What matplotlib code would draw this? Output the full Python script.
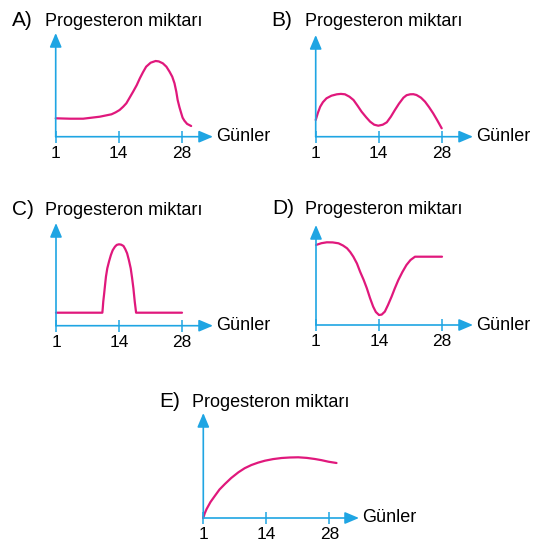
import matplotlib.pyplot as plt

# ── THEME ────────────────────────────────────────────────────────────────────
BLUE = '#1fa5e3'
PINK = '#e0187c'
W, H = 549, 541
plt.rcParams['font.family'] = ['Liberation Sans', 'DejaVu Sans']

# ── DATA (x in day-axis units: ticks 1, 14, 28 sit at 0, 14, 28) ────────────
tick_pos = [0, 14, 28]
tick_labels = ['1', '14', '28']
title = 'Progesteron miktarı'
xlabel = 'Günler'

a_x = [0, 3.2, 6.1, 9.8, 12.4, 13.3, 14.2, 15.0, 15.7, 16.4, 17.2, 18.0, 18.7, 19.4, 20.1,
       21.1, 22.2, 22.9, 23.8, 24.6, 25.3, 25.9, 26.4, 26.8, 27.1, 27.5, 27.9, 28.2, 28.6,
       29.2, 30.1]
a_y = [18.4, 18.0, 18.0, 20.0, 22.4, 24.3, 26.7, 30.0, 33.4, 38.8, 45.0, 51.5, 58.4, 64.5, 70.0,
       74.0, 75.7, 75.3, 73.4, 70.0, 65.0, 60.0, 53.4, 45.0, 36.7, 29.5, 23.4, 19.0, 16.0,
       12.8, 10.7]

b_x = [0, 0.5, 1.0, 1.6, 2.4, 3.5, 4.7, 5.6, 6.5, 7.5, 8.4, 9.3, 10.2, 11.2, 12.1, 13.0,
       13.9, 14.9, 15.8, 16.7, 17.6, 18.5, 19.5, 20.2, 21.0, 21.7, 22.4, 23.4, 24.3, 25.2,
       26.1, 27.0, 28.0]
b_y = [16.7, 24, 30, 34.5, 38.4, 41, 42.4, 42.8, 42.4, 40, 36.7, 31, 25, 19.5, 15, 12,
       11, 12, 14.4, 20, 26.7, 33, 39, 41.5, 42.4, 42.5, 41.7, 39, 35, 29.5,
       23.4, 16.5, 8.4]

c_x = [0, 10.3, 10.4, 10.5, 10.7, 10.9, 11.1, 11.4, 11.8, 12.2, 12.6, 13.1, 13.5, 14.0,
       14.5, 15.0, 15.4, 15.8, 16.2, 16.6, 16.9, 17.2, 17.5, 17.8, 28]
c_y = [13, 13, 18, 24, 32, 40.7, 49, 57.4, 64.5, 70.7, 75.5, 79, 80.8, 81.4,
       81, 79.7, 76.5, 72.4, 65.5, 57.4, 48, 37.4, 24, 13, 13]

d_x = [0, 1.2, 2.4, 3.7, 5.0, 6.0, 6.9, 7.6, 8.3, 9.1, 9.8, 10.6, 11.3, 12.0, 12.7, 13.3,
       14.0, 14.6, 15.3, 16.0, 16.8, 17.5, 18.3, 19.2, 20.1, 21.0, 22.0, 23.8, 28.0]
d_y = [80, 81.8, 82.7, 82.6, 81.7, 79.5, 76.7, 73, 68.3, 61.5, 53.3, 45, 36.7, 27, 18.4, 13,
       10, 10.4, 13.4, 20, 28.4, 36.5, 45, 53, 60, 65, 68.3, 68.3, 68.3]

e_x = [0, 0.3, 0.74, 1.6, 2.6, 3.6, 4.8, 6.2, 7.8, 9.2, 10.7, 12.2, 13.7, 15.5, 17.4, 19.2,
       21.1, 23.0, 24.8, 26.3, 27.8, 29.6]
e_y = [0, 4.5, 9, 16, 22.3, 28.5, 34, 40, 45.7, 49.8, 53, 55.4, 57.3, 58.9, 60, 60.5,
       60.7, 60.1, 59, 57.8, 56.3, 55]

# panel layout in pixels: letter, origin x, origin y, arrow tip x, y-axis top y
PANELS = [
    ('A)', a_x, a_y, 55.7, 136.7, 213, 33),
    ('B)', b_x, b_y, 315.7, 136.7, 473, 35),
    ('C)', c_x, c_y, 56.0, 325.7, 213, 223),
    ('D)', d_x, d_y, 316.0, 325.0, 473, 225),
    ('E)', e_x, e_y, 203.3, 518.0, 359, 413),
]
PX_PER_UNIT = 4.5

fig = plt.figure(figsize=(W / 100, H / 100), dpi=100)


def panel(letter, xs, ys, ox, oy, tip, top):
    w, h = tip - ox, oy - top
    ax = fig.add_axes([ox / W, 1 - oy / H, w / W, h / H])
    ax.set_xlim(0, w / PX_PER_UNIT)
    ax.set_ylim(0, h)
    for s in ax.spines.values():
        s.set_visible(False)
    ax.patch.set_alpha(0)

    arrow = dict(arrowstyle='-|>,head_length=0.85,head_width=0.36', color=BLUE,
                 lw=1.2, shrinkA=0, shrinkB=0, mutation_scale=10)
    ax.annotate('', xy=(w / PX_PER_UNIT, 0), xytext=(0, 0), arrowprops=arrow,
                annotation_clip=False)
    ax.annotate('', xy=(0, h), xytext=(0, 0), arrowprops=arrow, annotation_clip=False)

    ax.plot(xs, ys, color=PINK, lw=1.6, solid_capstyle='round',
            solid_joinstyle='round', clip_on=False)

    ax.set_xticks(tick_pos)
    ax.set_xticklabels(tick_labels, fontsize=12.5)
    ax.tick_params(axis='x', direction='inout', length=8, width=1.1, color=BLUE, pad=2.5)
    ax.set_yticks([])

    ax.text(w / PX_PER_UNIT + 0.7, 0, xlabel, fontsize=13, va='center', ha='left',
            clip_on=False)
    fig.text((ox - 11) / W, 1 - (oy - 111) / H, title, fontsize=13, va='baseline')
    fig.text((ox - 44) / W, 1 - (oy - 111) / H, letter, fontsize=15, va='baseline')


for p in PANELS:
    panel(*p)

fig.savefig('out.png', dpi=100)
